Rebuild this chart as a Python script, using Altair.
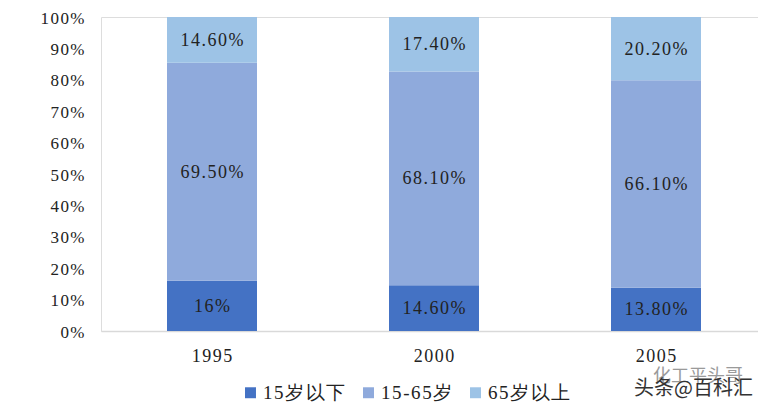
import altair as alt
import pandas as pd

years = ["1995", "2000", "2005"]
groups = ["15岁以下", "15-65岁", "65岁以上"]
under15 = [16.0, 14.6, 13.8]
middle = [69.5, 68.1, 66.1]
over65 = [14.6, 17.4, 20.2]
under15_labels = ["16%", "14.60%", "13.80%"]
middle_labels = ["69.50%", "68.10%", "66.10%"]
over65_labels = ["14.60%", "17.40%", "20.20%"]
colors = ["#4472c4", "#8faadc", "#9dc3e6"]
tick_values = [i / 10 for i in range(11)]

HAIR = "\u200a"
def spaced(s):
    return HAIR.join(s)

rows = []
for k, (g, vals, labs) in enumerate(zip(groups, [under15, middle, over65],
                                        [under15_labels, middle_labels, over65_labels])):
    for y, v, l in zip(years, vals, labs):
        rows.append({"year": spaced(y), "group": spaced(g), "order": k, "value": v, "label": spaced(l)})
df = pd.DataFrame(rows)
group_domain = [spaced(g) for g in groups]

FONT = "Liberation Serif"
x_scale = alt.Scale(range=[0, 666])
y_scale = alt.Scale(domain=[0, 1])
x_axis = alt.Axis(
    labelAngle=0, labelFont=FONT, labelFontSize=18, labelColor="#222222",
    labelPadding=16, ticks=False, domainColor="#d9d9d9", domainWidth=1.5, grid=False)
y_axis = alt.Axis(
    values=tick_values, labelExpr=f"join(split(format(datum.value, '.0%'), ''), '{HAIR}')",
    labelFont=FONT, labelFontSize=17, labelColor="#222222", labelOverlap=False,
    labelOffset=1, labelPadding=17, ticks=False, domain=False, grid=False)

base = alt.Chart(df).transform_stack(
    stack="value", as_=["y0", "y1"], groupby=["year"],
    sort=[alt.SortField("order", order="ascending")], offset="normalize"
).transform_calculate(mid="(datum.y0 + datum.y1) / 2")

bars = base.mark_bar(size=90).encode(
    x=alt.X("year:N", title=None, scale=x_scale, axis=x_axis),
    y=alt.Y("y0:Q", title=None, scale=y_scale, axis=y_axis),
    y2="y1:Q",
    color=alt.Color("group:N", sort=group_domain, scale=alt.Scale(domain=group_domain, range=colors),
                    legend=alt.Legend(
                        title=None, orient="none", direction="horizontal",
                        legendX=140, legendY=366, symbolType="square", symbolSize=120,
                        symbolStrokeWidth=0, labelFont=FONT, labelFontSize=19,
                        labelColor="#222222", columnPadding=13, labelOffset=3)),
)
labels = base.mark_text(font=FONT, fontSize=18, color="#222222", dy=1).encode(
    x=alt.X("year:N", title=None, scale=x_scale, axis=x_axis),
    y=alt.Y("mid:Q", title=None, scale=y_scale, axis=y_axis),
    text="label:N")

wm1 = alt.Chart(pd.DataFrame({"t": ["化工平头哥"]})).mark_text(
    font="Noto Sans CJK SC", fontSize=18, color="#9a9a9a", align="left", baseline="middle"
).encode(x=alt.value(552), y=alt.value(360), text="t:N")
wm2 = alt.Chart(pd.DataFrame({"t": ["头条@百科汇"]})).mark_text(
    font="Noto Sans CJK SC", fontSize=20, color="#333333", align="left", baseline="middle"
).encode(x=alt.value(533), y=alt.value(372), text="t:N")

chart = alt.layer(bars, labels, wm1, wm2).properties(
    width=657, height=314,
    padding={"left": 93, "top": 9, "right": 0, "bottom": 78},
    autosize=alt.AutoSizeParams(type="none"),
).configure_view(strokeWidth=0, stroke="transparent").configure(background="white")

chart.save("out.html", embed_options={"renderer": "svg", "actions": False})
